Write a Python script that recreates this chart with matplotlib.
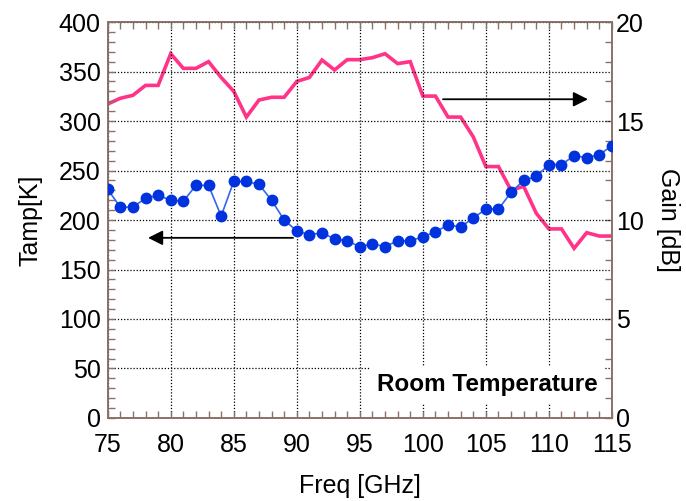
import matplotlib
matplotlib.use("Agg")
import matplotlib.pyplot as plt
from matplotlib.ticker import MultipleLocator

plt.rcParams['font.family'] = ['Liberation Sans', 'DejaVu Sans']

freq = list(range(75, 116))
tamp = [231, 213, 213, 222, 225, 220, 219, 235, 235, 204,
        239, 239, 236, 220, 200, 189, 185, 187, 181, 179,
        173, 176, 173, 179, 179, 183, 188, 195, 193, 202,
        211, 211, 228, 240, 244, 256, 256, 265, 263, 266, 275]
gain = [15.86, 16.15, 16.3, 16.8, 16.8, 18.4, 17.66, 17.66, 18.0, 17.2,
        16.5, 15.2, 16.06, 16.2, 16.2, 17.0, 17.2, 18.08, 17.58, 18.1,
        18.1, 18.2, 18.4, 17.9, 18.0, 16.26, 16.26, 15.2, 15.2, 14.2,
        12.7, 12.7, 11.5, 11.7, 10.34, 9.55, 9.55, 8.57, 9.36, 9.19, 9.19]

spine_c = '#8a7268'
fs = 18

fig = plt.figure(figsize=(6.86, 5.01), dpi=100)
ax = fig.add_axes([0.157, 0.1657, 0.735, 0.7903])
ax2 = ax.twinx()
ax.set_zorder(ax2.get_zorder() + 1)
ax.patch.set_visible(False)

ax2.plot(freq, gain, color='#ff3388', lw=2.6, solid_joinstyle='miter', zorder=3)
ax.plot(freq, tamp, color='#3366ee', lw=1.2, marker='o', markersize=7.5,
        markerfacecolor='#0033dd', markeredgecolor='#0033dd', zorder=4)

ax.set_xlim(75, 115)
ax.set_ylim(0, 400)
ax2.set_ylim(0, 20)

ax.xaxis.set_major_locator(MultipleLocator(5))
ax.xaxis.set_minor_locator(MultipleLocator(1))
ax.yaxis.set_major_locator(MultipleLocator(50))
ax.yaxis.set_minor_locator(MultipleLocator(10))
ax2.yaxis.set_major_locator(MultipleLocator(5))
ax2.yaxis.set_minor_locator(MultipleLocator(1))

ax.grid(True, which='major', color='black', linestyle=(0, (1, 1.5)), lw=0.9)

ax.tick_params(axis='x', which='both', direction='in', top=True, bottom=True,
               color=spine_c, labelsize=fs, pad=11)
ax.tick_params(axis='y', which='both', direction='in', left=True, right=False,
               color=spine_c, labelsize=fs, pad=5)
ax2.tick_params(axis='y', which='both', direction='in', left=False, right=True,
                color=spine_c, labelsize=fs, pad=3)
for a in (ax, ax2):
    a.tick_params(which='major', length=5, width=1)
    a.tick_params(which='minor', length=5, width=1)
    for s in a.spines.values():
        s.set_color(spine_c)
        s.set_linewidth(1.2)

ax.set_xlabel('Freq [GHz]', fontsize=fs, labelpad=12)
ax.set_ylabel('Tamp[K]', fontsize=fs, labelpad=12)
ax2.set_ylabel('Gain [dB]', fontsize=fs, rotation=270, labelpad=26)

arrow_kw = dict(arrowstyle='-|>', color='black', lw=1.3, mutation_scale=22,
                shrinkA=0, shrinkB=0)
ax.annotate('', xy=(78.2, 182), xytext=(89.7, 182), arrowprops=arrow_kw, zorder=5)
ax.annotate('', xy=(113.1, 322), xytext=(101.6, 322), arrowprops=arrow_kw, zorder=5)

ax.text(113.9, 22, 'Room Temperature', fontsize=17.5, fontweight='bold',
        ha='right', va='bottom', zorder=6,
        bbox=dict(facecolor='white', edgecolor='none', pad=5))

fig.savefig('out.png', dpi=100)
